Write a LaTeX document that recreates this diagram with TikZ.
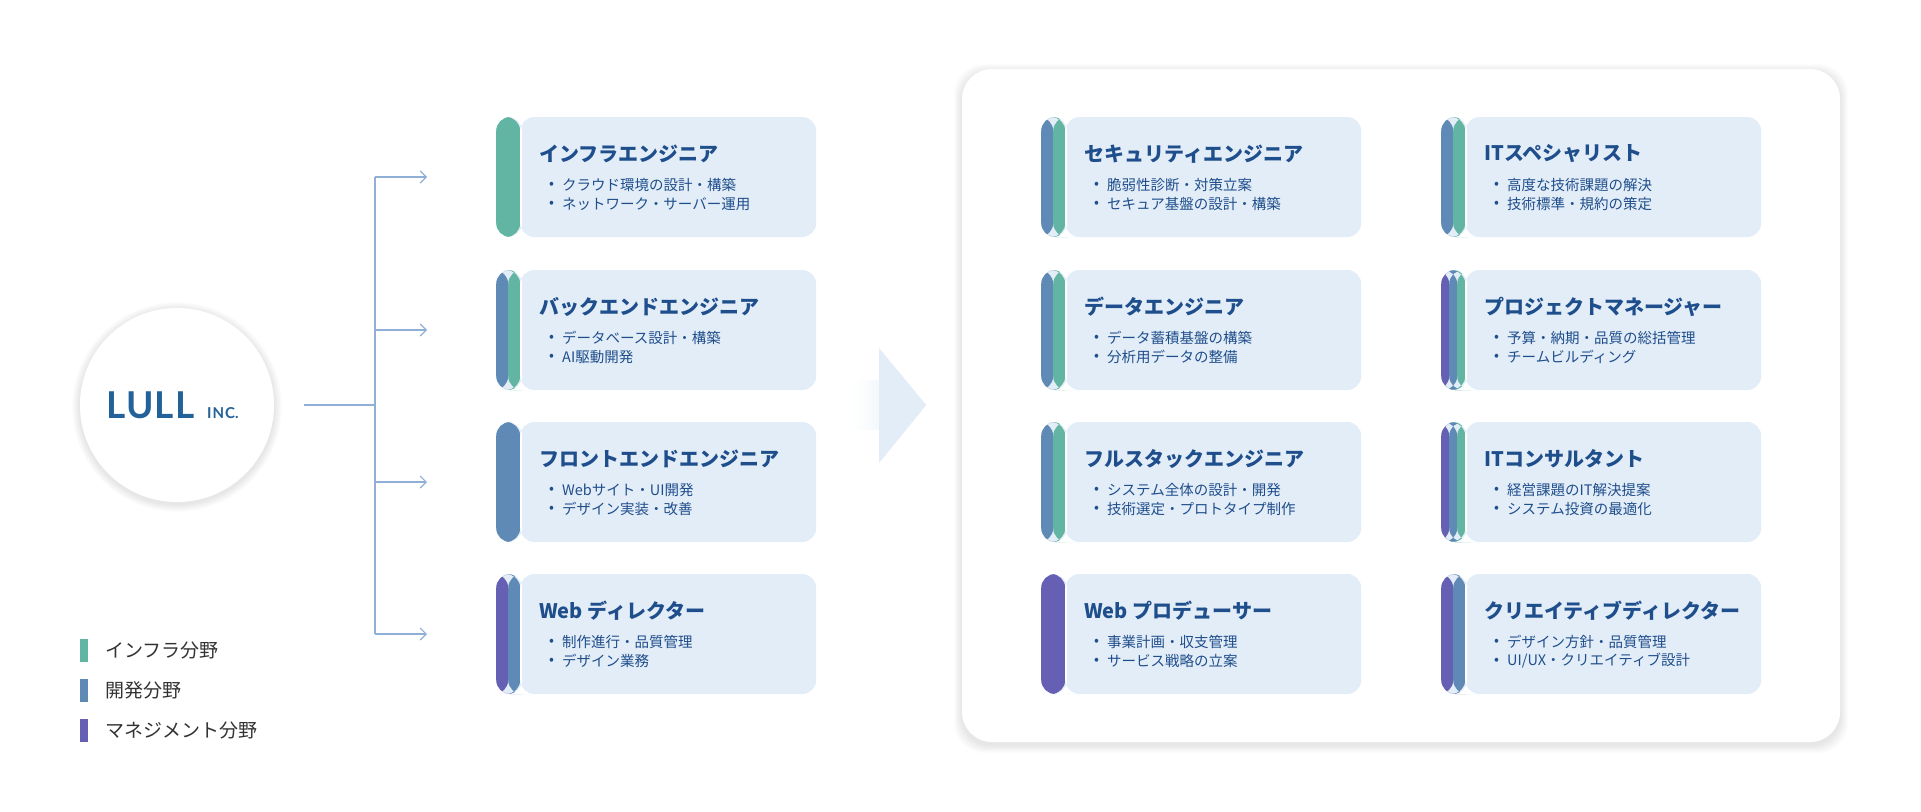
\documentclass[tikz,border=0pt]{standalone}
\usepackage{fontspec}
\setmainfont{Noto Sans CJK JP}
\newfontfamily\logofont{Lato}
\usetikzlibrary{calc,arrows.meta}
\definecolor{cg}{HTML}{63B5A3}
\definecolor{cb}{HTML}{5F8AB5}
\definecolor{cp}{HTML}{6560B3}
\definecolor{cardbg}{HTML}{E3EDF7}
\definecolor{ctitle}{HTML}{1F4E8C}
\definecolor{cline}{HTML}{8FAFD6}
\definecolor{clogo}{HTML}{236199}
\tikzset{
  cardbox/.style={rounded corners=14pt,fill=cardbg,minimum width=320pt,minimum height=120pt,inner sep=0pt},
  cardtitle/.style={anchor=west,font=\bfseries\fontsize{20}{24}\selectfont,text=ctitle,inner sep=0pt},
  cardbullet/.style={anchor=west,font=\fontsize{14.5}{17}\selectfont,text=ctitle,inner sep=0pt},
  conn/.style={draw=cline,line width=1.2pt},
  connarrow/.style={conn,-{Straight Barb[length=6pt,width=12pt,line width=1.2pt]}},
  legbar/.style={minimum width=8pt,minimum height=23pt,inner sep=0pt},
  legtext/.style={anchor=west,font=\fontsize{19}{22}\selectfont,text=black!80,inner sep=0pt}
}
% #1 name, #2 x left, #3 y center, #4 number of stripes, #5 stripe colours, #6 title, #7 b1, #8 b2
\newcommand{\mycard}[8]{%
  \node[cardbox,anchor=west,path picture={
    \pgfmathsetmacro{\sw}{24/#4}
    \foreach \c [count=\i from 0] in {#5}{
      \fill[\c] ($(path picture bounding box.north west)+(\i*\sw,0)$) rectangle ($(path picture bounding box.south west)+(\i*\sw+\sw,0)$);
    }
    \fill[white] ($(path picture bounding box.north west)+(24,0)$) rectangle ($(path picture bounding box.south west)+(26,0)$);
  }] (#1) at (#2,#3) {};
  \node[cardtitle] (#1t) at ($(#1.west)+(43,-23)$) {#6};
  \node[cardbullet] (#1b1) at ($(#1.west)+(53,8)$) {•};
  \node[cardbullet] (#1b1t) at ($(#1.west)+(66,8)$) {#7};
  \node[cardbullet] (#1b2) at ($(#1.west)+(53,27)$) {•};
  \node[cardbullet] (#1b2t) at ($(#1.west)+(66,27)$) {#8};
}
\begin{document}
\begin{tikzpicture}[x=1pt,y=-1pt]
\useasboundingbox (0,0) rectangle (1921,811);
% panel shadow
\foreach \k in {1,...,8}{
  \fill[black,opacity=0.012,rounded corners=30pt] (962-\k,69-\k+3) rectangle (1840+\k,742+\k+3);
}
\fill[white,rounded corners=30pt] (962,69) rectangle (1840,742);
% circle
\foreach \k in {1,...,8}{
  \fill[black,opacity=0.012] (177,407) circle (97+\k);
}
\node[circle,fill=white,minimum size=194pt,inner sep=0pt] (logo) at (177,405) {};
\node[inner sep=0pt,anchor=base west,text=clogo,font=\logofont\bfseries\fontsize{37}{40}\selectfont] (lull) at (106,418) {L\kern1ptU\kern1ptL\kern1ptL};
\node[inner sep=0pt,anchor=base west,text=clogo,font=\logofont\bfseries\fontsize{15}{17}\selectfont] (inc) at (207,418) {I\kern1ptN\kern1ptC.};
% cards left
\mycard{a1}{496}{177}{1}{cg}{インフラエンジニア}{クラウド環境の設計・構築}{ネットワーク・サーバー運用}
\mycard{a2}{496}{330}{2}{cb,cg}{バックエンドエンジニア}{データベース設計・構築}{AI駆動開発}
\mycard{a3}{496}{482}{1}{cb}{フロントエンドエンジニア}{Webサイト・UI開発}{デザイン実装・改善}
\mycard{a4}{496}{634}{2}{cp,cb}{Web ディレクター}{制作進行・品質管理}{デザイン業務}
% cards right
\mycard{b1}{1041}{177}{2}{cb,cg}{セキュリティエンジニア}{脆弱性診断・対策立案}{セキュア基盤の設計・構築}
\mycard{b2}{1041}{330}{2}{cb,cg}{データエンジニア}{データ蓄積基盤の構築}{分析用データの整備}
\mycard{b3}{1041}{482}{2}{cb,cg}{フルスタックエンジニア}{システム全体の設計・開発}{技術選定・プロトタイプ制作}
\mycard{b4}{1041}{634}{1}{cp}{Web プロデューサー}{事業計画・収支管理}{サービス戦略の立案}
\mycard{c1}{1441}{177}{2}{cb,cg}{ITスペシャリスト}{高度な技術課題の解決}{技術標準・規約の策定}
\mycard{c2}{1441}{330}{3}{cp,cb,cg}{プロジェクトマネージャー}{予算・納期・品質の総括管理}{チームビルディング}
\mycard{c3}{1441}{482}{3}{cp,cb,cg}{ITコンサルタント}{経営課題のIT解決提案}{システム投資の最適化}
\mycard{c4}{1441}{634}{2}{cp,cb}{クリエイティブディレクター}{デザイン方針・品質管理}{UI/UX・クリエイティブ設計}
% connectors
\coordinate (j) at (375,405);
\coordinate (jt) at (375,177);
\coordinate (jb) at (375,634);
\draw[conn] (logo.east |- j) ++(30,0) -- (j);
\draw[conn] (jt) -- (jb);
\draw[connarrow] (jt) -- ++(52,0);
\draw[connarrow] (375,330) -- ++(52,0);
\draw[connarrow] (375,482) -- ++(52,0);
\draw[connarrow] (jb) -- ++(52,0);
% big arrow
\shade[left color=white,right color=cardbg,shading angle=90] (851,380) -- (879,380) -- (879,348) -- (926,405) -- (879,463) -- (879,430) -- (851,430) -- cycle;
\fill[cardbg] (879,348) -- (926,405) -- (879,463) -- cycle;
% legend
\node[legbar,fill=cg] (l1) at (84,650) {};
\node[legbar,fill=cb] (l2) at (84,690) {};
\node[legbar,fill=cp] (l3) at (84,730) {};
\node[legtext] (l1t) at (105,650) {インフラ分野};
\node[legtext] (l2t) at (105,690) {開発分野};
\node[legtext] (l3t) at (105,730) {マネジメント分野};
\end{tikzpicture}
\end{document}
